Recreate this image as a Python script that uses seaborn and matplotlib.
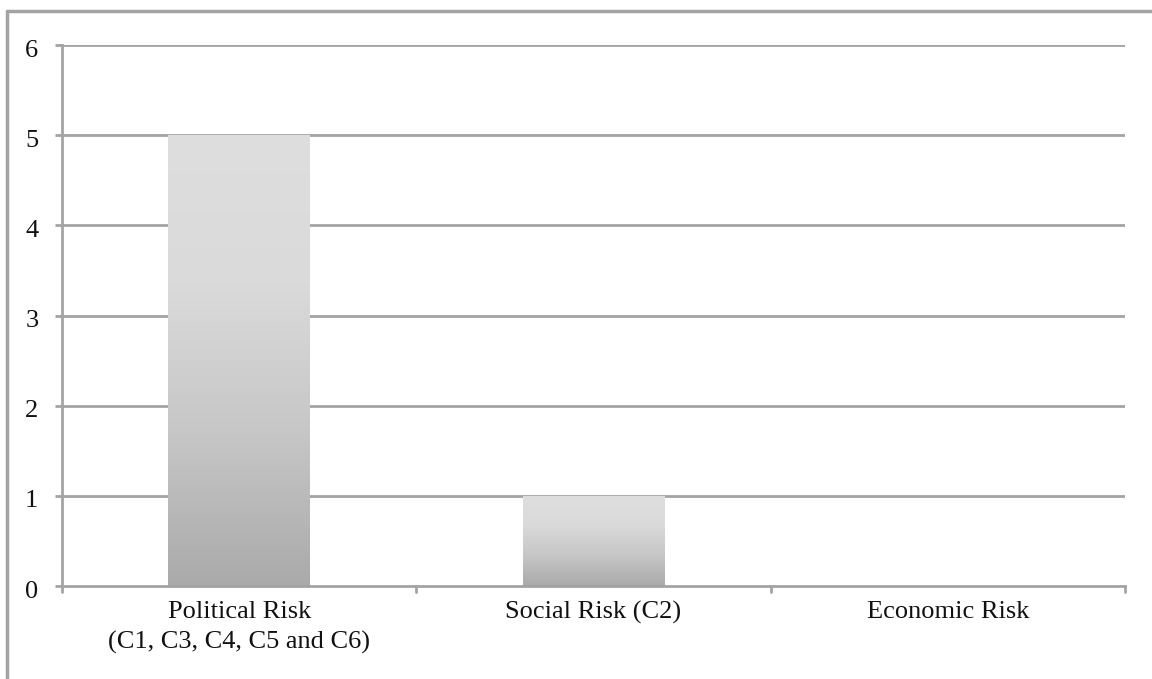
import numpy as np
import pandas as pd
import matplotlib
matplotlib.use("Agg")
import matplotlib.pyplot as plt
import matplotlib.transforms as mtransforms
import seaborn as sns
from matplotlib.colors import LinearSegmentedColormap
from matplotlib.lines import Line2D

categories = ["Political Risk\n(C1, C3, C4, C5 and C6)", "Social Risk (C2)", "Economic Risk"]
counts = [5, 1, 0]
y_ticks = [0, 1, 2, 3, 4, 5, 6]

sns.set_theme(style="white")
plt.rcParams["font.family"] = ["Liberation Serif", "DejaVu Serif"]

grey = "#a3a3a3"
fs = 19
fig = plt.figure(figsize=(11.52, 6.79), dpi=100)
ax = fig.add_axes([62 / 1152, 1 - 586 / 679, (1125 - 62) / 1152, (586 - 45) / 679])

df = pd.DataFrame({"category": categories, "count": counts})
sns.barplot(data=df, x="category", y="count", ax=ax, width=0.40,
            color="#c8c8c8", edgecolor="none", linewidth=0, zorder=2)

ax.set_ylim(0, 6)
ax.set_xlim(-0.5, len(categories) - 0.5)
ax.set_yticks(y_ticks)
ax.set_yticklabels([str(t) for t in y_ticks])
ax.set_xlabel("")
ax.set_ylabel("")

# horizontal gridlines
for t in y_ticks[1:]:
    ax.axhline(t, color=grey, lw=2, zorder=1)

# vertical gradient fill for each bar: light at top, darker at the base
cmap = LinearSegmentedColormap.from_list("bar", ["#aaaaaa", "#c6c6c6", "#dadada", "#dedede"])
grad = np.linspace(0, 1, 256).reshape(-1, 1)
for patch in list(ax.patches):
    h = patch.get_height()
    if h <= 0:
        continue
    x0 = patch.get_x()
    w = patch.get_width()
    im = ax.imshow(grad, cmap=cmap, aspect="auto", origin="lower",
                   extent=[x0, x0 + w, 0, h], zorder=2.5, interpolation="bicubic")
    im.set_clip_path(patch)
ax.set_xlim(-0.5, len(categories) - 0.5)
ax.set_ylim(0, 6)

for side in ["top", "right"]:
    ax.spines[side].set_visible(False)
for side in ["left", "bottom"]:
    ax.spines[side].set_color(grey)
    ax.spines[side].set_linewidth(2)
    ax.spines[side].set_zorder(3)

# x ticks on category boundaries, labels centred under each bar
ax.set_xticks([i for i in range(len(categories))])
ax.set_xticklabels(categories, fontsize=fs, color="#111111", linespacing=1.45)
ax.tick_params(axis="x", length=0, pad=11)
for b in np.arange(-0.5, len(categories), 1.0):
    ax.add_line(Line2D([b, b], [0, -0.07], color=grey, lw=2, clip_on=False,
                       transform=ax.transData))
ax.tick_params(axis="y", length=5, width=2, color=grey, pad=12, labelsize=fs,
               labelcolor="#111111", left=True)
ax.yaxis.set_ticks_position("left")
# nudge the value labels slightly below their gridlines
shift = mtransforms.ScaledTranslation(0, -3 / 100, fig.dpi_scale_trans)
for lbl in ax.get_yticklabels():
    lbl.set_transform(lbl.get_transform() + shift)

# outer frame of the figure (top and left edges)
fig.add_artist(Line2D([7 / 1152, 7 / 1152], [0, 1 - 11 / 679], color=grey, lw=2.5,
                      transform=fig.transFigure))
fig.add_artist(Line2D([7 / 1152, 1], [1 - 11 / 679, 1 - 11 / 679], color=grey, lw=2.5,
                      transform=fig.transFigure))

fig.savefig("out.png", dpi=100)
